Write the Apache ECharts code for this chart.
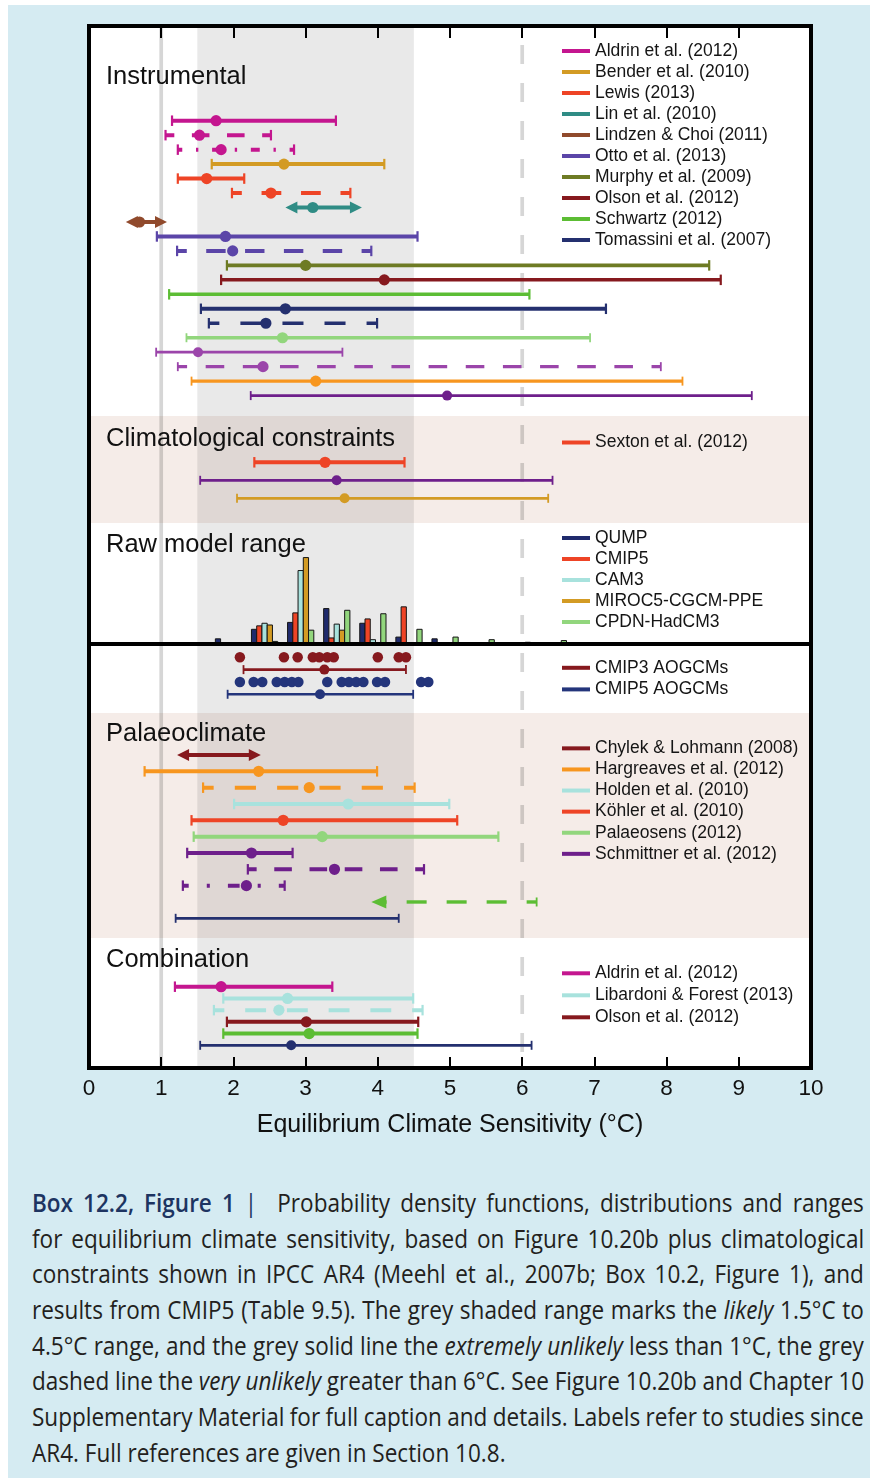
<!DOCTYPE html>
<html>
<head>
<meta charset="utf-8">
<script src="https://cdn.jsdelivr.net/npm/echarts@6/dist/echarts.min.js"></script>
<style>
html,body{margin:0;padding:0;background:#fff;width:870px;height:1478px;overflow:hidden;}
#panel{position:absolute;left:8px;top:5px;width:862px;height:1473px;background:#d5ebf2;}
#chart{position:absolute;left:0;top:0;width:870px;height:1160px;}
#caption{position:absolute;left:32px;top:1185px;width:832px;font-family:'Open Sans','Noto Sans',sans-serif;font-size:25px;color:#231f20;}
.ln{height:35.7px;line-height:35.7px;white-space:nowrap;overflow:visible;}
.in{display:inline-block;white-space:nowrap;transform-origin:0 50%;}
.hd{color:#1d3461;font-weight:600;}
.bar{color:#1d3461;}
</style>
</head>
<body>
<div id="panel"></div>
<div id="chart"></div>
<div id="caption">
<div class="ln"><span class="in"><span class="hd">Box 12.2, Figure 1</span><span class="bar"> |</span>&nbsp; Probability density functions, distributions and ranges</span></div>
<div class="ln"><span class="in">for equilibrium climate sensitivity, based on Figure 10.20b plus climatological</span></div>
<div class="ln"><span class="in">constraints shown in IPCC AR4 (Meehl et al., 2007b; Box 10.2, Figure 1), and</span></div>
<div class="ln"><span class="in">results from CMIP5 (Table 9.5). The grey shaded range marks the <i>likely</i> 1.5°C to</span></div>
<div class="ln"><span class="in">4.5°C range, and the grey solid line the <i>extremely unlikely</i> less than 1°C, the grey</span></div>
<div class="ln"><span class="in">dashed line the <i>very unlikely</i> greater than 6°C. See Figure 10.20b and Chapter 10</span></div>
<div class="ln"><span class="in">Supplementary Material for full caption and details. Labels refer to studies since</span></div>
<div class="ln"><span class="in">AR4. Full references are given in Section 10.8.</span></div>
</div>
<script>
// ---------------- DATA ----------------
const xTicks = [0, 1, 2, 3, 4, 5, 6, 7, 8, 9, 10];
const likelyRange = [1.5, 4.5];
const extremelyUnlikelyBelow = 1;
const veryUnlikelyAbove = 6;

// Instrumental
const instrumentalStudy = [
  'Aldrin et al. (2012)', 'Aldrin et al. (2012)', 'Aldrin et al. (2012)', 'Bender et al. (2010)',
  'Lewis (2013)', 'Lewis (2013)', 'Lin et al. (2010)', 'Lindzen & Choi (2011)',
  'Otto et al. (2013)', 'Otto et al. (2013)', 'Murphy et al. (2009)', 'Olson et al. (2012)',
  'Schwartz (2012)', 'Tomassini et al. (2007)', 'Tomassini et al. (2007)',
  'Pre-AR4 instrumental 1', 'Pre-AR4 instrumental 2', 'Pre-AR4 instrumental 2',
  'Pre-AR4 instrumental 3', 'Pre-AR4 instrumental 4'
];
const instrumentalLow  = [1.15, 1.06, 1.23, 1.70, 1.23, 1.98, 2.72, 0.51, 0.94, 1.22, 1.91, 1.83, 1.11, 1.55, 1.66, 1.35, 0.93, 1.23, 1.42, 2.24];
const instrumentalBest = [1.76, 1.53, 1.83, 2.70, 1.63, 2.52, 3.10, 0.70, 1.89, 1.99, 3.00, 4.09, null, 2.72, 2.45, 2.68, 1.51, 2.41, 3.14, 4.96];
const instrumentalHigh = [3.42, 2.52, 2.84, 4.09, 2.15, 3.62, 3.78, 1.08, 4.55, 3.91, 8.59, 8.75, 6.10, 7.16, 3.99, 6.94, 3.51, 7.92, 8.22, 9.18];

// Climatological constraints
const climStudy = ['Sexton et al. (2012)', 'Pre-AR4 climatological 1', 'Pre-AR4 climatological 2'];
const climLow  = [2.29, 1.54, 2.05];
const climBest = [3.27, 3.43, 3.54];
const climHigh = [4.37, 6.42, 6.36];

// Raw model range (normalised histogram heights, bins of 0.5 K)
const histBins = [1.75, 2.25, 2.75, 3.25, 3.75, 4.25, 4.75, 5.25, 5.75, 6.25];
const histQUMP  = [0.06, 0.17, 0.25, 0.41, 0.24, 0.08, 0.06, 0, 0, 0];
const histCMIP5 = [0, 0.21, 0.36, 0.07, 0.29, 0.43, 0, 0, 0, 0];
const histCAM3  = [0, 0.24, 0.85, 0.23, 0.05, 0, 0, 0, 0, 0];
const histMIROC = [0, 0.22, 1.00, 0.16, 0, 0, 0, 0, 0, 0];
const histCPDN  = [0, 0.03, 0.16, 0.39, 0.35, 0.17, 0.08, 0.05, 0.02, 0.04];

// AOGCM ensembles
const cmip3Ecs = [2.09, 2.70, 2.89, 3.10, 3.19, 3.30, 3.39, 4.00, 4.29, 4.39];
const cmip5Ecs = [2.09, 2.28, 2.40, 2.60, 2.71, 2.81, 2.90, 3.30, 3.50, 3.60, 3.70, 3.80, 3.99, 4.10, 4.60, 4.70];
const aogcmStudy = ['CMIP3 AOGCMs', 'CMIP5 AOGCMs'];
const aogcmLow  = [2.14, 1.92];
const aogcmBest = [3.26, 3.20];
const aogcmHigh = [4.39, 4.49];

// Palaeoclimate
const palaeoStudy = [
  'Chylek & Lohmann (2008)', 'Hargreaves et al. (2012)', 'Hargreaves et al. (2012)', 'Holden et al. (2010)',
  'Köhler et al. (2010)', 'Palaeosens (2012)', 'Schmittner et al. (2012)', 'Schmittner et al. (2012)',
  'Schmittner et al. (2012)', 'Pre-AR4 palaeoclimate 1', 'Pre-AR4 palaeoclimate 2'
];
const palaeoLow  = [1.22, 0.77, 1.58, 2.01, 1.42, 1.45, 1.36, 2.20, 1.30, 3.91, 1.20];
const palaeoBest = [null, 2.35, 3.05, 3.59, 2.69, 3.23, 2.25, 3.40, 2.18, null, null];
const palaeoHigh = [2.38, 3.99, 4.51, 4.99, 5.10, 5.67, 2.82, 4.64, 2.71, 6.20, 4.29];

// Combination
const combStudy = ['Aldrin et al. (2012)', 'Libardoni & Forest (2013)', 'Libardoni & Forest (2013)', 'Olson et al. (2012)', 'Combined estimate 1', 'Combined estimate 2'];
const combLow  = [1.19, 1.86, 1.73, 1.91, 1.86, 1.54];
const combBest = [1.83, 2.75, 2.63, 3.01, 3.05, 2.80];
const combHigh = [3.37, 4.49, 4.62, 4.56, 4.55, 6.13];

// Legends
const instrumentalLegend = ['Aldrin et al. (2012)', 'Bender et al. (2010)', 'Lewis (2013)', 'Lin et al. (2010)', 'Lindzen & Choi (2011)', 'Otto et al. (2013)', 'Murphy et al. (2009)', 'Olson et al. (2012)', 'Schwartz (2012)', 'Tomassini et al. (2007)'];
const climLegend = ['Sexton et al. (2012)'];
const rawLegend = ['QUMP', 'CMIP5', 'CAM3', 'MIROC5-CGCM-PPE', 'CPDN-HadCM3'];
const aogcmLegend = ['CMIP3 AOGCMs', 'CMIP5 AOGCMs'];
const palaeoLegend = ['Chylek & Lohmann (2008)', 'Hargreaves et al. (2012)', 'Holden et al. (2010)', 'Köhler et al. (2010)', 'Palaeosens (2012)', 'Schmittner et al. (2012)'];
const combLegend = ['Aldrin et al. (2012)', 'Libardoni & Forest (2013)', 'Olson et al. (2012)'];

// ---------------- STYLE ----------------
const studyColor = {
  'Aldrin et al. (2012)': '#c4168f', 'Bender et al. (2010)': '#d39b24', 'Lewis (2013)': '#ee4426',
  'Lin et al. (2010)': '#2f8c85', 'Lindzen & Choi (2011)': '#904a2c', 'Otto et al. (2013)': '#5b45a8',
  'Murphy et al. (2009)': '#6e7b24', 'Olson et al. (2012)': '#86191e', 'Schwartz (2012)': '#5cbd34',
  'Tomassini et al. (2007)': '#24306f',
  'Pre-AR4 instrumental 1': '#92d67d', 'Pre-AR4 instrumental 2': '#9b45aa',
  'Pre-AR4 instrumental 3': '#f7961f', 'Pre-AR4 instrumental 4': '#6e1f8b',
  'Sexton et al. (2012)': '#ee4426', 'Pre-AR4 climatological 1': '#6e1f8b', 'Pre-AR4 climatological 2': '#d39b24',
  'QUMP': '#1f2a6c', 'CMIP5': '#ee4426', 'CAM3': '#a8e2dd', 'MIROC5-CGCM-PPE': '#d39b24', 'CPDN-HadCM3': '#92d67d',
  'CMIP3 AOGCMs': '#86191e', 'CMIP5 AOGCMs': '#24357b',
  'Chylek & Lohmann (2008)': '#86191e', 'Hargreaves et al. (2012)': '#f7961f', 'Holden et al. (2010)': '#a8e2dd',
  'Köhler et al. (2010)': '#ee4426', 'Palaeosens (2012)': '#92d67d', 'Schmittner et al. (2012)': '#6e1f8b',
  'Pre-AR4 palaeoclimate 1': '#5cbd34', 'Pre-AR4 palaeoclimate 2': '#24306f',
  'Libardoni & Forest (2013)': '#a8e2dd', 'Combined estimate 1': '#5cbd34', 'Combined estimate 2': '#24306f'
};
const instrumentalLine  = ['solid','dash','dashdot','solid','solid','dash','solid','solid','solid','dash','solid','solid','solid','solid','dash','solid','solid','dash','solid','solid'];
const instrumentalWidth = [4,4,4,4,4,4,4,4,4,4,3.7,3.5,3.5,4,3.7,3.3,2.7,3.4,3.3,2.7];
const instrumentalEnds  = ['cap-cap','cap-cap','cap-cap','cap-cap','cap-cap','cap-cap','arrow-arrow','arrow-arrow','cap-cap','cap-cap','cap-cap','cap-cap','cap-cap','cap-cap','cap-cap','cap-cap','cap-cap','cap-cap','cap-cap','cap-cap'];
const climLine = ['solid','solid','solid'], climWidth = [4, 2.8, 2.8], climEnds = ['cap-cap','cap-cap','cap-cap'];
const aogcmLine = ['solid','solid'], aogcmWidth = [2.6, 2.6], aogcmEnds = ['cap-cap','cap-cap'];
const palaeoLine  = ['solid','solid','dash','solid','solid','solid','solid','dash','dashdot','dash','solid'];
const palaeoWidth = [4,4,4,4,4,4,4,4,4,3.4,2.8];
const palaeoEnds  = ['arrow-arrow','cap-cap','cap-cap','cap-cap','cap-cap','cap-cap','cap-cap','cap-cap','cap-cap','arrow-cap','cap-cap'];
const combLine  = ['solid','solid','dash','solid','solid','solid'];
const combWidth = [4,4,4,4,4,2.7];
const combEnds  = ['cap-cap','cap-cap','cap-cap','cap-cap','cap-cap','cap-cap'];

const FONT = "'Liberation Sans', Arial, Helvetica, sans-serif";
const PINK = '#f5ece8';
const L = 89, W = 722;
const layout = {
  inst:  {g: 1, top: 26,  h: 390, min: -6.545, max: 20.41, bg: '#ffffff'},
  clim:  {g: 2, top: 416, h: 107, min: -2.572, max: 3.372, bg: PINK},
  hist:  {g: 3, top: 523, h: 121, min: 0, max: 1.40, bg: '#ffffff'},
  aogcm: {g: 4, top: 644, h: 69,  min: -1.078, max: 4.518, bg: '#ffffff'},
  pal:   {g: 5, top: 713, h: 225, min: -2.572, max: 11.206, bg: PINK},
  comb:  {g: 6, top: 938, h: 130, min: -4.155, max: 6.937, bg: '#ffffff'}
};
const aogcmDotRow = [0, 2];
const aogcmRangeRow = [1, 3];
const histSlotPx = 5.25;

// ---------------- BUILD ----------------
function drawRange(api, color, lo, best, hi, row, line, w, ends) {
  const pLo = api.coord([lo, row]);
  const pHi = api.coord([hi, row]);
  const y = pLo[1];
  const x0 = pLo[0], x1 = pHi[0];
  const parts = ends.split('-');
  const endLo = parts[0], endHi = parts[1];
  const thick = w >= 3.5;
  const capH = thick ? 10.5 : 9;
  const capW = thick ? 2.2 : 1.8;
  const big = endLo === 'arrow' && endHi === 'cap';
  const ah = big ? 15 : 12, aw = big ? 6.5 : 6;
  const kids = [];
  let lx0 = x0, lx1 = x1;
  if (endLo === 'arrow') {
    kids.push({type: 'polygon', shape: {points: [[x0, y], [x0 + ah, y - aw], [x0 + ah, y + aw]]}, style: {fill: color}});
    lx0 = x0 + ah - 0.5;
  }
  if (endHi === 'arrow') {
    kids.push({type: 'polygon', shape: {points: [[x1, y], [x1 - ah, y - aw], [x1 - ah, y + aw]]}, style: {fill: color}});
    lx1 = x1 - ah + 0.5;
  }
  let dash = null, off = 0, sx = lx0, ex = lx1;
  const len = lx1 - lx0;
  if (line === 'dash') {
    if (endLo === 'arrow') { dash = [20, 20]; off = 10; sx = lx1; ex = lx0; }
    else { const n = Math.max(1, Math.round(len / 38.5)); const p = len / n; dash = [p / 2, p / 2]; off = p / 4; }
  } else if (line === 'dashdot') {
    const n = Math.max(1, Math.round(len / 45)); const p = len / n;
    const d = p * 0.23, dt = p * 0.06, g = (p - d - dt) / 2;
    dash = [d, g, dt, g]; off = d / 2;
  }
  kids.push({type: 'line', shape: {x1: sx, y1: y, x2: ex, y2: y},
    style: {stroke: color, lineWidth: w, lineDash: dash, lineDashOffset: off, fill: null}});
  if (endLo === 'cap') kids.push({type: 'line', shape: {x1: x0, y1: y - capH / 2, x2: x0, y2: y + capH / 2}, style: {stroke: color, lineWidth: capW}});
  if (endHi === 'cap') kids.push({type: 'line', shape: {x1: x1, y1: y - capH / 2, x2: x1, y2: y + capH / 2}, style: {stroke: color, lineWidth: capW}});
  if (best !== null && best !== undefined) {
    const pb = api.coord([best, row]);
    kids.push({type: 'circle', shape: {cx: pb[0], cy: y, r: w >= 3 ? 5.6 : 5}, style: {fill: color}});
  }
  return {type: 'group', children: kids};
}

const series = [];
series.push({
  type: 'custom', name: 'likely', xAxisIndex: 0, yAxisIndex: 0, z: 1, silent: true,
  data: [[likelyRange[0], 0, likelyRange[1], 1]], encode: {x: [0, 2], y: [1, 3]},
  renderItem: function (p, api) {
    const a = api.coord([api.value(0), 1]);
    const b = api.coord([api.value(2), 0]);
    return {type: 'rect', shape: {x: a[0], y: a[1], width: b[0] - a[0], height: b[1] - a[1]}, style: {fill: 'rgba(0,0,0,0.085)'}};
  }
});
series.push({
  type: 'custom', name: 'guides', xAxisIndex: 0, yAxisIndex: 0, z: 1, silent: true,
  data: [[extremelyUnlikelyBelow, 0], [veryUnlikelyAbove, 0]], encode: {x: 0, y: 1},
  renderItem: function (p, api) {
    const a = api.coord([api.value(0), 1]);
    const b = api.coord([api.value(0), 0]);
    const dashed = p.dataIndex === 1;
    return {type: 'line', shape: {x1: a[0], y1: a[1], x2: b[0], y2: b[1]},
      style: {stroke: 'rgba(0,0,0,0.16)', lineWidth: 3.7, lineDash: dashed ? [19, 19] : null, lineDashOffset: dashed ? 19 : 0}};
  }
});

function addSection(lay, study, low, best, high, lineArr, widthArr, endsArr, rowArr) {
  const names = [];
  study.forEach(n => { if (names.indexOf(n) < 0) names.push(n); });
  names.forEach(name => {
    const rows = [];
    study.forEach((n, i) => { if (n === name) rows.push(i); });
    const color = studyColor[name];
    series.push({
      type: 'custom', name: name, xAxisIndex: lay.g + 1, yAxisIndex: lay.g, z: 3, silent: true,
      itemStyle: {color: color},
      data: rows.map(i => [low[i], rowArr ? rowArr[i] : i, high[i]]),
      encode: {x: [0, 2], y: 1},
      renderItem: function (params, api) {
        const i = rows[params.dataIndex];
        return drawRange(api, color, low[i], best[i], high[i], rowArr ? rowArr[i] : i, lineArr[i], widthArr[i], endsArr[i]);
      }
    });
  });
}
addSection(layout.inst, instrumentalStudy, instrumentalLow, instrumentalBest, instrumentalHigh, instrumentalLine, instrumentalWidth, instrumentalEnds);
addSection(layout.clim, climStudy, climLow, climBest, climHigh, climLine, climWidth, climEnds);
addSection(layout.aogcm, aogcmStudy, aogcmLow, aogcmBest, aogcmHigh, aogcmLine, aogcmWidth, aogcmEnds, aogcmRangeRow);
addSection(layout.pal, palaeoStudy, palaeoLow, palaeoBest, palaeoHigh, palaeoLine, palaeoWidth, palaeoEnds);
addSection(layout.comb, combStudy, combLow, combBest, combHigh, combLine, combWidth, combEnds);

[[cmip3Ecs, 'CMIP3 AOGCMs', aogcmDotRow[0]], [cmip5Ecs, 'CMIP5 AOGCMs', aogcmDotRow[1]]].forEach(([vals, name, row]) => {
  series.push({
    type: 'scatter', name: name, xAxisIndex: layout.aogcm.g + 1, yAxisIndex: layout.aogcm.g, z: 3, silent: true,
    symbol: 'circle', symbolSize: 10.5, itemStyle: {color: studyColor[name], opacity: 1},
    data: vals.map(v => [v, row])
  });
});

[[histQUMP, 'QUMP'], [histCMIP5, 'CMIP5'], [histCAM3, 'CAM3'], [histMIROC, 'MIROC5-CGCM-PPE'], [histCPDN, 'CPDN-HadCM3']].forEach(([vals, name], slot) => {
  const color = studyColor[name];
  series.push({
    type: 'custom', name: name, xAxisIndex: layout.hist.g + 1, yAxisIndex: layout.hist.g, z: 3, silent: true,
    itemStyle: {color: color},
    data: histBins.map((b, k) => [b, vals[k]]).filter(d => d[1] > 0),
    encode: {x: 0, y: 1},
    renderItem: function (p, api) {
      const base = api.coord([api.value(0), 0]);
      const top = api.coord([api.value(0), api.value(1)]);
      return {type: 'rect', shape: {x: base[0] + slot * histSlotPx, y: top[1], width: histSlotPx, height: base[1] - top[1]},
        style: {fill: color, stroke: '#151515', lineWidth: 1}};
    }
  });
});

const grids = [{left: L, top: 26, width: W, height: 1042, show: true, borderColor: '#000', borderWidth: 4, backgroundColor: 'transparent', z: 5}];
const xAxes = [
  {gridIndex: 0, type: 'value', min: xTicks[0], max: xTicks[xTicks.length - 1], interval: 1, position: 'bottom', z: 6,
    axisLine: {show: false}, splitLine: {show: false},
    axisTick: {show: true, inside: true, length: 11, lineStyle: {color: '#000', width: 2}},
    axisLabel: {fontSize: 22.5, color: '#111', margin: 9, fontFamily: FONT},
    name: 'Equilibrium Climate Sensitivity (°C)', nameLocation: 'middle', nameGap: 45,
    nameTextStyle: {fontSize: 25, color: '#111', fontFamily: FONT}},
  {gridIndex: 0, type: 'value', min: xTicks[0], max: xTicks[xTicks.length - 1], interval: 1, position: 'top', z: 6,
    axisLine: {show: false}, splitLine: {show: false}, axisLabel: {show: false},
    axisTick: {show: true, inside: true, length: 12, lineStyle: {color: '#000', width: 2}}}
];
const yAxes = [{gridIndex: 0, type: 'value', min: 0, max: 1, show: false}];
['inst', 'clim', 'hist', 'aogcm', 'pal', 'comb'].forEach(k => {
  const s = layout[k];
  grids.push({left: L, top: s.top, width: W, height: s.h, show: true, borderWidth: 0, backgroundColor: s.bg, z: 0});
  if (k === 'hist') {
    xAxes.push({gridIndex: s.g, type: 'value', min: 0, max: 10, z: 6,
      axisLine: {show: true, lineStyle: {color: '#000', width: 4}}, axisTick: {show: false}, axisLabel: {show: false}, splitLine: {show: false}});
    yAxes.push({gridIndex: s.g, type: 'value', min: s.min, max: s.max, show: false});
  } else {
    xAxes.push({gridIndex: s.g, type: 'value', min: 0, max: 10, show: false});
    yAxes.push({gridIndex: s.g, type: 'value', min: s.min, max: s.max, inverse: true, show: false});
  }
});

function legend(data, top, lh) {
  return {orient: 'vertical', left: 562, top: top, padding: 0, itemGap: 0, itemWidth: 28, itemHeight: 4,
    icon: 'rect', selectedMode: false, data: data,
    textStyle: {fontSize: 17.5, lineHeight: lh || 21, color: '#151515', fontFamily: FONT}};
}

const titles = [['Instrumental', 76.5], ['Climatological constraints', 438.5], ['Raw model range', 544.5], ['Palaeoclimate', 733.5], ['Combination', 959.5]];

const option = {
  animation: false,
  textStyle: {fontFamily: FONT},
  grid: grids, xAxis: xAxes, yAxis: yAxes,
  legend: [
    legend(instrumentalLegend, 40.5), legend(climLegend, 432), legend(rawLegend, 527.5),
    legend(aogcmLegend, 657, 21.6), legend(palaeoLegend, 737.8, 21.1), legend(combLegend, 962.3, 22)
  ],
  graphic: titles.map(t => ({type: 'text', x: 106, y: t[1], z: 10, silent: true,
    style: {text: t[0], fill: '#111', font: '25.5px ' + FONT, verticalAlign: 'middle', align: 'left'}})),
  series: series
};
const chart = echarts.init(document.getElementById('chart'));
chart.setOption(option);

// ---------------- CAPTION (justified lines) ----------------
(function () {
  const lines = Array.from(document.querySelectorAll('#caption .in'));
  const last = lines[lines.length - 1];
  const s = 474 / last.offsetWidth;
  lines.forEach((el, k) => {
    if (k < lines.length - 1) {
      const nat = el.offsetWidth;
      const spaces = (el.textContent.match(/[ \u00a0]/g) || []).length;
      el.style.wordSpacing = ((832 / s - nat) / spaces) + 'px';
    }
    el.style.transform = 'scaleX(' + s + ')';
  });
})();
</script>
</body>
</html>
